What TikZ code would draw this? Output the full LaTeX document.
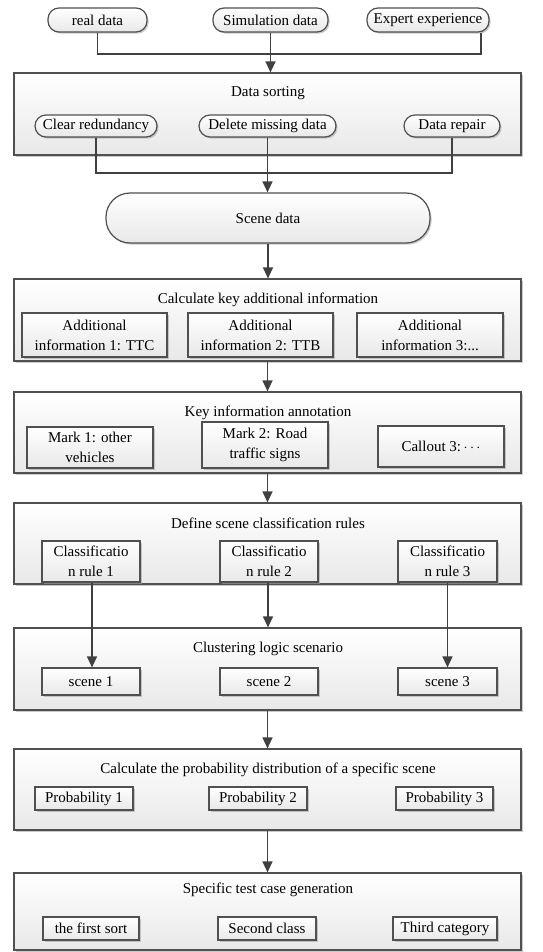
\documentclass[tikz,border=0pt]{standalone}
\usepackage{fontspec}
\setmainfont{Liberation Serif}
\usetikzlibrary{arrows.meta,shadows}
\definecolor{edge}{HTML}{505050}
\definecolor{wire}{HTML}{404040}
\tikzset{
  base/.style={draw=edge, line width=1.2pt, top color=white, bottom color=black!9,
    drop shadow={shadow xshift=1.6pt, shadow yshift=-1.6pt, fill=black!35, opacity=0.6},
    inner sep=0pt, align=center, font=\fontsize{15}{20}\selectfont},
  bigbox/.style={base, minimum width=507pt},
  subbox/.style={base},
  pill/.style={base, rounded corners=11pt},
  title/.style={font=\fontsize{15}{20}\selectfont, inner sep=0pt},
  wires/.style={draw=wire, line width=1.3pt},
  arr/.style={wires, -{Triangle[length=11pt,width=10pt]}}
}
\begin{document}
\begin{tikzpicture}[x=1pt,y=-1pt]
\useasboundingbox (0,0) rectangle (542,952);
% top sources
\node[pill, minimum width=99pt, minimum height=24pt] (real) at (97.5,20) {real data};
\node[pill, minimum width=115pt, minimum height=24pt] (sim) at (270.5,20) {Simulation data};
\node[pill, minimum width=122pt, minimum height=24pt] (exp) at (428,20) {Expert experience};
% data sorting
\node[bigbox, minimum height=82pt] (ds) at (267.5,114) {};
\node[title] (dst) at (268,93) {Data sorting};
\node[pill, minimum width=122pt, minimum height=22pt] (clr) at (96,126) {Clear redundancy};
\node[pill, minimum width=137pt, minimum height=22pt] (del) at (267.5,126) {Delete missing data};
\node[pill, minimum width=96pt, minimum height=22pt] (rep) at (452,126) {Data repair};
% scene data
\node[base, rounded corners=24pt, minimum width=324pt, minimum height=50pt] (scn) at (268,218) {Scene data};
% calculate key additional information
\node[bigbox, minimum height=82pt] (calc) at (267.5,320) {};
\node[title] (calct) at (268,300) {Calculate key additional information};
\node[subbox, minimum width=145pt, minimum height=44pt] (a1) at (94.5,335) {Additional\\information 1: TTC};
\node[subbox, minimum width=145pt, minimum height=44pt] (a2) at (260.5,335) {Additional\\information 2: TTB};
\node[subbox, minimum width=146pt, minimum height=44pt] (a3) at (430,335) {Additional\\information 3:...};
% key information annotation
\node[bigbox, minimum height=81pt] (key) at (267.5,432.5) {};
\node[title] (keyt) at (268,413) {Key information annotation};
\node[subbox, minimum width=126pt, minimum height=41pt] (m1) at (90,447.5) {Mark 1: other\\vehicles};
\node[subbox, minimum width=126pt, minimum height=46pt] (m2) at (265,445) {Mark 2: Road\\traffic signs};
\node[subbox, minimum width=126pt, minimum height=41pt] (m3) at (441,446.5) {Callout 3:\,$\cdots$};
% define scene classification rules
\node[bigbox, minimum height=81pt] (def) at (267.5,543.5) {};
\node[title] (deft) at (268,523) {Define scene classification rules};
\node[subbox, minimum width=98pt, minimum height=41pt] (c1) at (91,561.5) {Classificatio\\n rule 1};
\node[subbox, minimum width=98pt, minimum height=41pt] (c2) at (269,561.5) {Classificatio\\n rule 2};
\node[subbox, minimum width=99pt, minimum height=41pt] (c3) at (447.5,561.5) {Classificatio\\n rule 3};
% clustering logic scenario
\node[bigbox, minimum height=82pt] (clu) at (267.5,669) {};
\node[title] (clut) at (268,649) {Clustering logic scenario};
\node[subbox, minimum width=98pt, minimum height=27pt] (s1) at (91,681.5) {scene 1};
\node[subbox, minimum width=98pt, minimum height=27pt] (s2) at (269,681.5) {scene 2};
\node[subbox, minimum width=99pt, minimum height=27pt] (s3) at (447.5,681.5) {scene 3};
% probability distribution
\node[bigbox, minimum height=81pt] (prob) at (267.5,789.5) {};
\node[title] (probt) at (268,770) {Calculate the probability distribution of a specific scene};
\node[subbox, minimum width=98pt, minimum height=23pt] (p1) at (84,798.5) {Probability 1};
\node[subbox, minimum width=98pt, minimum height=23pt] (p2) at (258,798.5) {Probability 2};
\node[subbox, minimum width=97pt, minimum height=23pt] (p3) at (444.5,798.5) {Probability 3};
% specific test case generation
\node[bigbox, minimum height=77pt] (spec) at (267.5,911.5) {};
\node[title] (spect) at (268,890) {Specific test case generation};
\node[subbox, minimum width=96pt, minimum height=23pt] (t1) at (91,928.5) {the first sort};
\node[subbox, minimum width=98pt, minimum height=23pt] (t2) at (267,928.5) {Second class};
\node[subbox, minimum width=104pt, minimum height=23pt] (t3) at (445,928.5) {Third category};
% connectors
\coordinate (j1) at (268.5,54);
\coordinate (j2) at (268,173);
\draw[wires] (real.south) |- (j1);
\draw[wires] ([xshift=53pt]exp.south) |- (j1);
\draw[arr] (sim.south) -- (sim.south |- ds.north);
\draw[wires] (clr.south) |- (j2);
\draw[wires] (rep.south) |- (j2);
\draw[arr] (del.south) -- (del.south |- scn.north);
\draw[arr] (scn.south) -- (scn.south |- calc.north);
\draw[arr] (calc.south) -- (key.north);
\draw[arr] (key.south) -- (def.north);
\draw[arr] ([xshift=1pt]c1.south) -- ([xshift=1pt]s1.north);
\draw[arr] ([xshift=-1pt]c2.south) -- ([xshift=-1pt]c2.south |- clu.north);
\draw[arr] (c3.south) -- (s3.north);
\draw[arr] (clu.south) -- (prob.north);
\draw[arr] (prob.south) -- (spec.north);
\end{tikzpicture}
\end{document}
